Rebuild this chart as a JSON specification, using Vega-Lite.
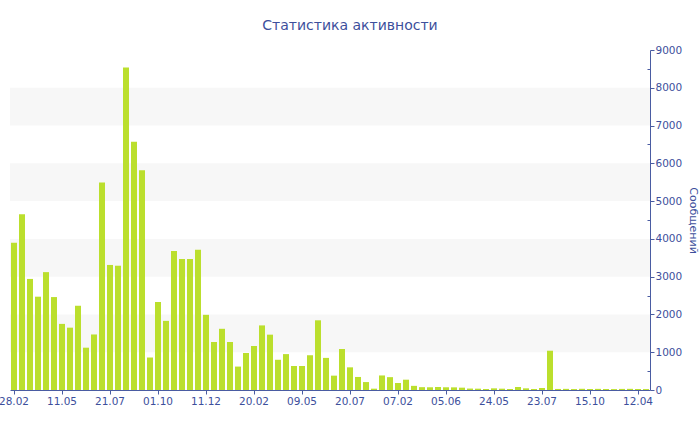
{
  "$schema": "https://vega.github.io/schema/vega-lite/v6.json",
  "width": 640,
  "height": 340,
  "autosize": {"type": "none"},
  "padding": {"left": 10, "top": 50, "right": 50, "bottom": 40},
  "background": "white",
  "title": {"text": "Статистика активности", "font": "DejaVu Sans", "fontSize": 14, "fontWeight": "normal", "color": "#3d4f9c", "offset": 12, "dx": 20},
  "config": {"view": {"stroke": null}},
  "layer": [
    {
      "data": {"values": [{"lo": 1000, "hi": 2000}, {"lo": 3000, "hi": 4000}, {"lo": 5000, "hi": 6000}, {"lo": 7000, "hi": 8000}]},
      "mark": {"type": "rect", "color": "#f7f7f7"},
      "encoding": {
        "y": {
          "field": "lo", "type": "quantitative", "scale": {"domain": [0, 9000]},
          "axis": {
            "orient": "right",
            "title": "Сообщений",
            "titleFont": "DejaVu Sans",
            "titleFontSize": 11,
            "titleFontWeight": "normal",
            "titleColor": "#3d4f9c",
            "titlePadding": 6,
            "values": [0, 500, 1000, 1500, 2000, 2500, 3000, 3500, 4000, 4500, 5000, 5500, 6000, 6500, 7000, 7500, 8000, 8500, 9000],
            "format": "d",
            "labelExpr": "datum.value % 1000 ? '' : datum.label",
            "labelFont": "DejaVu Sans",
            "labelFontSize": 10.5,
            "labelColor": "#3d4f9c",
            "labelPadding": 1,
            "domainColor": "#4a5ca2",
            "tickColor": "#4a5ca2",
            "tickSize": {"condition": {"test": "datum.value % 1000", "value": -3}, "value": 4},
            "grid": false
          }
        },
        "y2": {"field": "hi"}
      }
    },
    {
      "data": {"values": [
        {"i": 0, "n": 3900}, {"i": 1, "n": 4650}, {"i": 2, "n": 2940}, {"i": 3, "n": 2470}, {"i": 4, "n": 3120},
        {"i": 5, "n": 2460}, {"i": 6, "n": 1750}, {"i": 7, "n": 1650}, {"i": 8, "n": 2230}, {"i": 9, "n": 1120},
        {"i": 10, "n": 1470}, {"i": 11, "n": 5490}, {"i": 12, "n": 3310}, {"i": 13, "n": 3290}, {"i": 14, "n": 8540},
        {"i": 15, "n": 6570}, {"i": 16, "n": 5820}, {"i": 17, "n": 860}, {"i": 18, "n": 2330}, {"i": 19, "n": 1830},
        {"i": 20, "n": 3680}, {"i": 21, "n": 3470}, {"i": 22, "n": 3470}, {"i": 23, "n": 3710}, {"i": 24, "n": 1990},
        {"i": 25, "n": 1270}, {"i": 26, "n": 1620}, {"i": 27, "n": 1270}, {"i": 28, "n": 620}, {"i": 29, "n": 980},
        {"i": 30, "n": 1165}, {"i": 31, "n": 1710}, {"i": 32, "n": 1465}, {"i": 33, "n": 800}, {"i": 34, "n": 950},
        {"i": 35, "n": 635}, {"i": 36, "n": 635}, {"i": 37, "n": 920}, {"i": 38, "n": 1845}, {"i": 39, "n": 850},
        {"i": 40, "n": 380}, {"i": 41, "n": 1085}, {"i": 42, "n": 600}, {"i": 43, "n": 345}, {"i": 44, "n": 210},
        {"i": 45, "n": 35}, {"i": 46, "n": 385}, {"i": 47, "n": 340}, {"i": 48, "n": 185}, {"i": 49, "n": 273},
        {"i": 50, "n": 110}, {"i": 51, "n": 75}, {"i": 52, "n": 72}, {"i": 53, "n": 79}, {"i": 54, "n": 72},
        {"i": 55, "n": 70}, {"i": 56, "n": 62}, {"i": 57, "n": 38}, {"i": 58, "n": 35}, {"i": 59, "n": 26},
        {"i": 60, "n": 44}, {"i": 61, "n": 35}, {"i": 62, "n": 26}, {"i": 63, "n": 79}, {"i": 64, "n": 44},
        {"i": 65, "n": 26}, {"i": 66, "n": 53}, {"i": 67, "n": 1040}, {"i": 68, "n": 28}, {"i": 69, "n": 30},
        {"i": 70, "n": 25}, {"i": 71, "n": 32}, {"i": 72, "n": 27}, {"i": 73, "n": 30}, {"i": 74, "n": 26},
        {"i": 75, "n": 24}, {"i": 76, "n": 29}, {"i": 77, "n": 31}, {"i": 78, "n": 27}, {"i": 79, "n": 25}
      ]},
      "mark": {"type": "bar", "color": "#bbdf2d"},
      "encoding": {
        "x": {
          "field": "i", "type": "ordinal",
          "scale": {"paddingInner": 0.25, "paddingOuter": 0.125},
          "axis": {
            "title": null,
            "values": [0, 6, 12, 18, 24, 30, 36, 42, 48, 54, 60, 66, 72, 78],
            "labelExpr": "['28.02','11.05','21.07','01.10','11.12','20.02','09.05','20.07','07.02','05.06','24.05','23.07','15.10','12.04'][datum.value/6]",
            "labelAngle": 0,
            "labelFont": "DejaVu Sans",
            "labelFontSize": 10.5,
            "labelColor": "#3d4f9c",
            "labelPadding": 2,
            "domainColor": "#4a5ca2",
            "tickColor": "#4a5ca2",
            "tickSize": 4,
            "grid": false
          }
        },
        "y": {
          "field": "n", "type": "quantitative",
          "scale": {"domain": [0, 9000]},
          "axis": {
            "orient": "right",
            "title": "Сообщений",
            "titleFont": "DejaVu Sans",
            "titleFontSize": 11,
            "titleFontWeight": "normal",
            "titleColor": "#3d4f9c",
            "titlePadding": 6,
            "values": [0, 500, 1000, 1500, 2000, 2500, 3000, 3500, 4000, 4500, 5000, 5500, 6000, 6500, 7000, 7500, 8000, 8500, 9000],
            "format": "d",
            "labelExpr": "datum.value % 1000 ? '' : datum.label",
            "labelFont": "DejaVu Sans",
            "labelFontSize": 10.5,
            "labelColor": "#3d4f9c",
            "labelPadding": 1,
            "domainColor": "#4a5ca2",
            "tickColor": "#4a5ca2",
            "tickSize": {"condition": {"test": "datum.value % 1000", "value": -3}, "value": 4},
            "grid": false
          }
        }
      }
    }
  ]
}
